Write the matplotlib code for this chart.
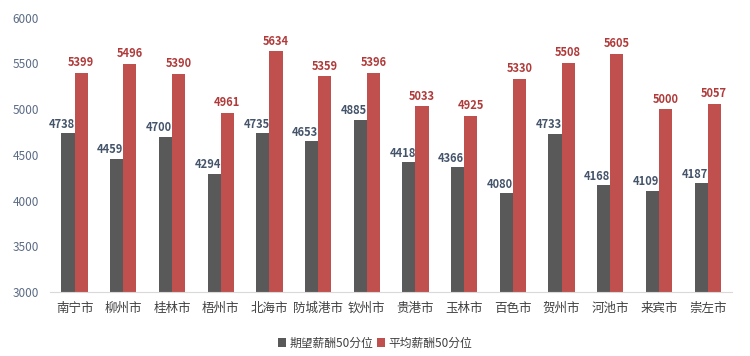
import matplotlib.pyplot as plt
import numpy as np

plt.rcParams['font.family'] = ['Noto Sans CJK SC', 'DejaVu Sans']

cities = ['南宁市', '柳州市', '桂林市', '梧州市', '北海市', '防城港市', '钦州市',
          '贵港市', '玉林市', '百色市', '贺州市', '河池市', '来宾市', '崇左市']
expected = [4738, 4459, 4700, 4294, 4735, 4653, 4885, 4418, 4366, 4080, 4733, 4168, 4109, 4187]
average = [5399, 5496, 5390, 4961, 5634, 5359, 5396, 5033, 4925, 5330, 5508, 5605, 5000, 5057]
labels = ['期望薪酬50分位', '平均薪酬50分位']

dark = '#595959'
red = '#C0504D'

fig = plt.figure(figsize=(7.5, 3.56), dpi=100)
ax = fig.add_axes([0.067, 0.18, 0.909, 0.77])

x = np.arange(len(cities))
w = 0.27
ax.bar(x - w / 2, np.array(expected) - 3000, w, bottom=3000, color=dark, label=labels[0])
ax.bar(x + w / 2, np.array(average) - 3000, w, bottom=3000, color=red, label=labels[1])

# data labels
for xi, v in zip(x, expected):
    ax.text(xi - w / 2 - 0.13, v + 25, str(v), ha='center', va='bottom',
            fontsize=8, color='#44546A', fontweight='bold')
for xi, v in zip(x, average):
    ax.text(xi + w / 2, v + 40, str(v), ha='center', va='bottom',
            fontsize=8, color='#B03A3A', fontweight='bold')

ax.set_xlim(-0.5, len(cities) - 0.5)
ax.set_ylim(3000, 6000)
ax.set_yticks(range(3000, 6001, 500))
ax.set_xticks(x)
ax.set_xticklabels(cities, fontsize=9, color='#404040')
ax.tick_params(axis='y', labelsize=8.5, colors='#5B6B85', length=0, pad=8)
ax.tick_params(axis='x', length=0, pad=7)
for s in ['top', 'right', 'left']:
    ax.spines[s].set_visible(False)
ax.spines['bottom'].set_color('#D9D9D9')

leg = fig.legend(loc='lower center', bbox_to_anchor=(0.5, -0.012), ncol=2, frameon=False,
                 fontsize=8.5, handlelength=0.7, handleheight=0.7, handletextpad=0.3,
                 columnspacing=0.3)
for t in leg.get_texts():
    t.set_color('#404040')

fig.savefig('out.png', dpi=100)
